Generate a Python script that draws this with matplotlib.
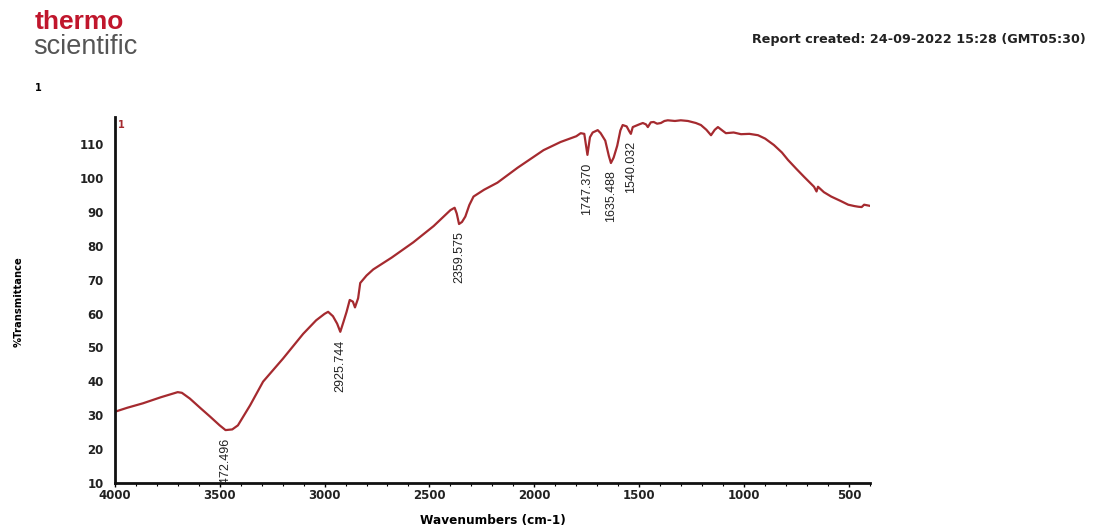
import matplotlib.pyplot as plt
from matplotlib.ticker import MultipleLocator
from matplotlib import font_manager

# spectrum (wavenumber cm-1, %T)
wavenumbers = [4000, 3940, 3866, 3780, 3700, 3680, 3642, 3590, 3546, 3500, 3472,
               3440, 3413, 3355, 3293, 3198, 3102, 3040, 3000, 2983, 2960, 2940,
               2925, 2910, 2895, 2880, 2865, 2855, 2840, 2830, 2800, 2768, 2680,
               2577, 2480, 2400, 2380, 2370, 2359, 2345, 2329, 2310, 2290, 2240,
               2176, 2080, 1956, 1875, 1800, 1779, 1762, 1747, 1735, 1722, 1698,
               1684, 1662, 1645, 1635, 1622, 1605, 1590, 1579, 1560, 1548, 1540,
               1531, 1500, 1483, 1468, 1459, 1445, 1431, 1415, 1397, 1380, 1364,
               1330, 1302, 1268, 1230, 1206, 1180, 1158, 1140, 1125, 1100, 1087,
               1050, 1015, 975, 934, 900, 858, 820, 791, 750, 714, 680, 667, 655,
               648, 620, 585, 540, 504, 475, 456, 440, 428, 404]
transmittance = [31.0, 32.2, 33.5, 35.3, 36.8, 36.6, 34.9, 32.0, 29.6, 27.0, 25.6,
                 25.8, 27.0, 32.9, 39.9, 46.7, 54.0, 58.0, 59.9, 60.5, 59.2, 57.0,
                 54.6, 57.5, 60.5, 64.0, 63.5, 61.8, 64.5, 69.0, 71.2, 73.0, 76.5,
                 81.0, 85.8, 90.5, 91.2, 89.5, 86.4, 87.0, 88.6, 92.0, 94.5, 96.5,
                 98.6, 103.0, 108.2, 110.6, 112.3, 113.2, 113.0, 106.8, 112.0, 113.4, 114.1,
                 113.2, 111.0, 106.5, 104.4, 106.0, 109.5, 114.0, 115.6, 115.2, 113.8, 113.0,
                 115.0, 115.8, 116.2, 115.8, 115.0, 116.4, 116.5, 116.0, 116.2, 116.8, 117.0,
                 116.8, 117.0, 116.8, 116.2, 115.6, 114.2, 112.6, 114.2, 115.0, 113.8, 113.2,
                 113.4, 112.9, 113.0, 112.6, 111.6, 109.7, 107.5, 105.3, 102.6, 100.3, 98.2, 97.4, 96.0,
                 97.4, 95.8, 94.5, 93.2, 92.1, 91.7, 91.5, 91.4, 92.1, 91.8]

peak_labels = ["3472.496", "2925.744", "2359.575", "1747.370", "1635.488", "1540.032"]
peak_pos = [3472.496, 2925.744, 2359.575, 1747.370, 1635.488, 1540.032]
peak_depth = [25.5, 54.6, 86.4, 106.8, 104.4, 113.0]

line_red = "#a52a2f"

# narrow font for peak labels if it is there
names = {f.name for f in font_manager.fontManager.ttflist}
if "Liberation Sans Narrow" in names:
    peak_font, peak_size = "Liberation Sans Narrow", 10.5
else:
    peak_font, peak_size = "Liberation Sans", 9

fig = plt.figure(figsize=(10.93, 5.29), dpi=100)
ax = fig.add_axes([0.105, 0.087, 0.691, 0.692])

ax.plot(wavenumbers, transmittance, color=line_red, lw=1.6)

ax.set_xlim(4000, 400)
ax.set_ylim(10, 118)
ax.set_xticks([4000, 3500, 3000, 2500, 2000, 1500, 1000, 500])
ax.xaxis.set_minor_locator(MultipleLocator(100))
ax.set_yticks(range(10, 111, 10))

for side in ["top", "right"]:
    ax.spines[side].set_visible(False)
for side in ["left", "bottom"]:
    ax.spines[side].set_linewidth(2)
    ax.spines[side].set_color("#111111")

ax.tick_params(axis="y", length=0, pad=8, labelsize=8.5)
ax.tick_params(axis="x", which="major", length=3, width=1, pad=1, labelsize=8.5)
ax.tick_params(axis="x", which="minor", length=2, width=0.8)
for lab in ax.get_xticklabels() + ax.get_yticklabels():
    lab.set_fontweight("bold")
    lab.set_color("#222222")

# peak annotations
for txt, w, d in zip(peak_labels, peak_pos, peak_depth):
    ax.text(w, d - 2.2, txt, rotation=90, ha="center", va="top",
            fontsize=peak_size, family=peak_font, color="#222222", clip_on=True)

ax.text(3985, 117, "1", color=line_red, fontsize=7, fontweight="bold",
        ha="left", va="top")

ax.set_xlabel("Wavenumbers (cm-1)", fontsize=8.7, fontweight="bold", labelpad=9)
fig.text(0.017, 0.43, "%Transmittance", rotation=90, fontsize=7.2,
         fontweight="bold", ha="center", va="center")

# header
fig.text(0.032, 0.945, "thermo", color="#c0162c", fontsize=19,
         fontweight="bold", family="Liberation Sans", ha="left", va="baseline")
fig.text(0.030, 0.897, "scientific", color="#555555", fontsize=19.5,
         family="Liberation Sans", ha="left", va="baseline")
fig.text(0.035, 0.833, "1", fontsize=7, fontweight="bold", ha="center", va="center")
fig.text(0.993, 0.925, "Report created: 24-09-2022 15:28 (GMT05:30)",
         fontsize=9.2, fontweight="bold", ha="right", va="center", color="#222222")

fig.savefig("out.png", dpi=100)
